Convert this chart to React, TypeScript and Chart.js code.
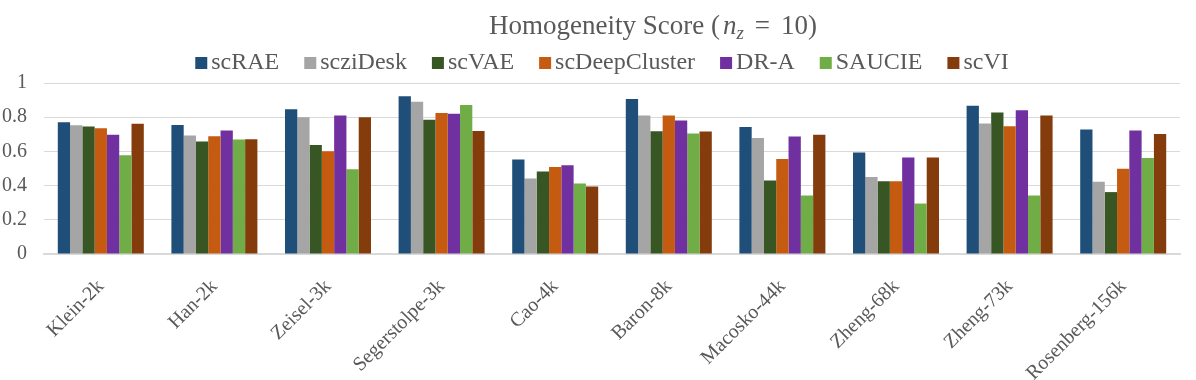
import React, { useEffect, useRef } from "react";
import { Chart, registerables } from "chart.js";

Chart.register(...registerables);

const categories = [
  "Klein-2k",
  "Han-2k",
  "Zeisel-3k",
  "Segerstolpe-3k",
  "Cao-4k",
  "Baron-8k",
  "Macosko-44k",
  "Zheng-68k",
  "Zheng-73k",
  "Rosenberg-156k",
];

const scRAE = [0.771, 0.755, 0.846, 0.922, 0.552, 0.906, 0.742, 0.593, 0.867, 0.728];
const scziDesk = [0.753, 0.693, 0.799, 0.89, 0.442, 0.81, 0.679, 0.45, 0.763, 0.423];
const scVAE = [0.746, 0.658, 0.638, 0.785, 0.483, 0.718, 0.43, 0.426, 0.828, 0.362];
const scDeepCluster = [0.736, 0.689, 0.601, 0.824, 0.509, 0.81, 0.555, 0.426, 0.747, 0.499];
const DRA = [0.697, 0.722, 0.81, 0.82, 0.519, 0.781, 0.687, 0.565, 0.84, 0.722];
const SAUCIE = [0.577, 0.669, 0.495, 0.871, 0.413, 0.705, 0.342, 0.295, 0.342, 0.561];
const scVI = [0.761, 0.671, 0.799, 0.72, 0.395, 0.716, 0.697, 0.565, 0.81, 0.702];

const seriesNames = ["scRAE", "scziDesk", "scVAE", "scDeepCluster", "DR-A", "SAUCIE", "scVI"];
const seriesValues = [scRAE, scziDesk, scVAE, scDeepCluster, DRA, SAUCIE, scVI];
const seriesColors = ["#1F4E79", "#A5A5A5", "#375623", "#C55A11", "#7030A0", "#70AD47", "#843C0C"];

const yTicks = [0, 0.2, 0.4, 0.6, 0.8, 1];

const TEXT = "#595959";
const SERIF = '"Liberation Serif", "Times New Roman", serif';

const headerPlugin = {
  id: "header",
  afterDraw(chart: any) {
    const ctx: CanvasRenderingContext2D = chart.ctx;
    ctx.save();
    ctx.fillStyle = TEXT;
    ctx.textBaseline = "alphabetic";
    ctx.textAlign = "left";

    // Title with math subscript
    const base = 34;
    const f1 = `27px ${SERIF}`;
    const fi = `italic 27px ${SERIF}`;
    const fs = `italic 19px ${SERIF}`;
    const p1 = "Homogeneity Score (";
    ctx.font = f1;
    const w1 = ctx.measureText(p1).width;
    ctx.font = fi;
    const wn = ctx.measureText("n").width;
    ctx.font = fs;
    const wz = ctx.measureText("z").width;
    ctx.font = f1;
    const weq = ctx.measureText("=").width;
    const w10 = ctx.measureText("10)").width;
    const gap = 11;
    const total = w1 + 3 + wn + wz + gap + weq + gap + w10;
    let x = 653 - total / 2;
    ctx.font = f1;
    ctx.fillText(p1, x, base);
    x += w1 + 3;
    ctx.font = fi;
    ctx.fillText("n", x, base);
    x += wn;
    ctx.font = fs;
    ctx.fillText("z", x, base + 5);
    x += wz + gap;
    ctx.font = f1;
    ctx.fillText("=", x, base);
    x += weq + gap;
    ctx.fillText("10)", x, base);

    // Legend
    const lf = `24px ${SERIF}`;
    ctx.font = lf;
    const box = 12;
    const boxGap = 4;
    const itemGap = 25;
    const datasets = chart.data.datasets;
    const widths = datasets.map((d: any) => ctx.measureText(d.label).width);
    const lt =
      widths.reduce((a: number, b: number) => a + b, 0) +
      datasets.length * (box + boxGap) +
      itemGap * (datasets.length - 1);
    let lx = 602 - lt / 2;
    const ly = 69;
    datasets.forEach((d: any, i: number) => {
      ctx.fillStyle = d.backgroundColor;
      ctx.fillRect(lx, ly - box, box, box);
      lx += box + boxGap;
      ctx.fillStyle = TEXT;
      ctx.fillText(d.label, lx, ly);
      lx += widths[i] + itemGap;
    });
    ctx.restore();
  },
};

export default function App() {
  const ref = useRef<HTMLCanvasElement | null>(null);

  useEffect(() => {
    document.body.style.margin = "0";
    const canvas = ref.current;
    if (!canvas) return;
    const chart = new Chart(canvas, {
      type: "bar",
      data: {
        labels: categories,
        datasets: seriesNames.map((name, i) => ({
          label: name,
          data: seriesValues[i],
          backgroundColor: seriesColors[i],
          borderWidth: 0,
          categoryPercentage: 0.757,
          barPercentage: 1.0,
        })),
      },
      options: {
        animation: false,
        responsive: false,
        devicePixelRatio: 1,
        layout: { padding: { top: 83, right: 16, left: 0, bottom: 0 } },
        plugins: {
          legend: { display: false },
          title: { display: false },
          tooltip: { enabled: false },
        },
        scales: {
          x: {
            grid: { display: false },
            border: { display: true, color: "#D9D9D9", width: 2 },
            ticks: {
              color: TEXT,
              font: { family: SERIF, size: 20 },
              minRotation: 45,
              maxRotation: 45,
              autoSkip: false,
              padding: 13,
            },
            afterFit: (scale: any) => {
              scale.height = 126;
            },
          },
          y: {
            min: 0,
            max: 1,
            afterBuildTicks: (scale: any) => {
              scale.ticks = yTicks.map((v) => ({ value: v }));
            },
            grid: { color: "#D9D9D9", lineWidth: 1, drawTicks: false },
            border: { display: false },
            ticks: {
              color: TEXT,
              font: { family: SERIF, size: 20 },
              padding: 17,
              callback: (v: any) => String(Number(Number(v).toFixed(1))),
            },
            afterFit: (scale: any) => {
              scale.width = 44;
            },
          },
        },
      },
      plugins: [headerPlugin],
    });
    return () => chart.destroy();
  }, []);

  return (
    <div style={{ width: 1196, height: 380 }}>
      <canvas ref={ref} width={1196} height={380} style={{ display: "block" }} />
    </div>
  );
}
